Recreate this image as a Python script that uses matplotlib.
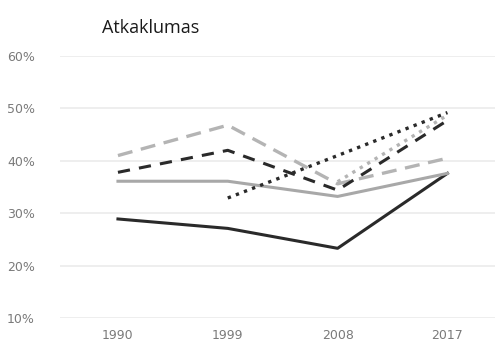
#!/usr/bin/env python3

# Import special modules ...
import matplotlib
matplotlib.use("Agg")
import matplotlib.pyplot

# ******************************************************************************

# Define data ...
years = [1990, 1999, 2008, 2017]
blackSolid = [28.9, 27.1, 23.3, 37.6]
graySolid = [36.1, 36.1, 33.2, 37.6]
grayDashed = [41.0, 46.8, 35.6, 40.5]
blackDashed = [37.8, 42.0, 34.4, 47.7]
blackDotted = [32.9, 41.0, 49.2]
blackDottedYears = [1999, 2008, 2017]
grayDotted = [36.0, 48.7]
grayDottedYears = [2008, 2017]
yticks = [10, 20, 30, 40, 50, 60]

# ******************************************************************************

# Create plot ...
fg = matplotlib.pyplot.figure(figsize = (5.01, 3.52), dpi = 100)
ax = fg.add_axes([60 / 501, 1 - 318 / 352, 435 / 501, 262 / 352])

# Add lines ...
ax.plot(years, blackSolid, color = "#2a2a2a", linewidth = 2.2)
ax.plot(years, graySolid, color = "#a8a8a8", linewidth = 2.2)
ax.plot(years, grayDashed, color = "#b4b4b4", linewidth = 2.4, dashes = (4.5, 2.6))
ax.plot(years, blackDashed, color = "#2a2a2a", linewidth = 2.2, dashes = (4, 3))
ax.plot(blackDottedYears, blackDotted, color = "#2a2a2a", linewidth = 2.4, dashes = (1, 1.6))
ax.plot(grayDottedYears, grayDotted, color = "#b4b4b4", linewidth = 2.4, dashes = (1, 1.6))

# Configure axes ...
ax.set_xlim(1985.25, 2020.9)
ax.set_ylim(10, 60)
ax.set_xticks(years)
ax.set_xticklabels([str(y) for y in years])
ax.set_yticks(yticks)
ax.set_yticklabels(["{:d}%".format(v) for v in yticks])
ax.grid(axis = "y", color = "#ebebeb", linewidth = 1.2)
ax.set_axisbelow(True)
for sp in ax.spines.values():
    sp.set_visible(False)
ax.tick_params(length = 0, colors = "#7a7a7a", labelsize = 9)
ax.tick_params(axis = "y", pad = 18)
ax.tick_params(axis = "x", pad = 8)

# Add title ...
fg.text(151 / 501, 1 - 28 / 352, "Atkaklumas", ha = "center", va = "center", fontsize = 13, family = "Open Sans", color = "#1a1a1a")

# Save plot ...
fg.savefig("out.png", dpi = 100)
matplotlib.pyplot.close(fg)
